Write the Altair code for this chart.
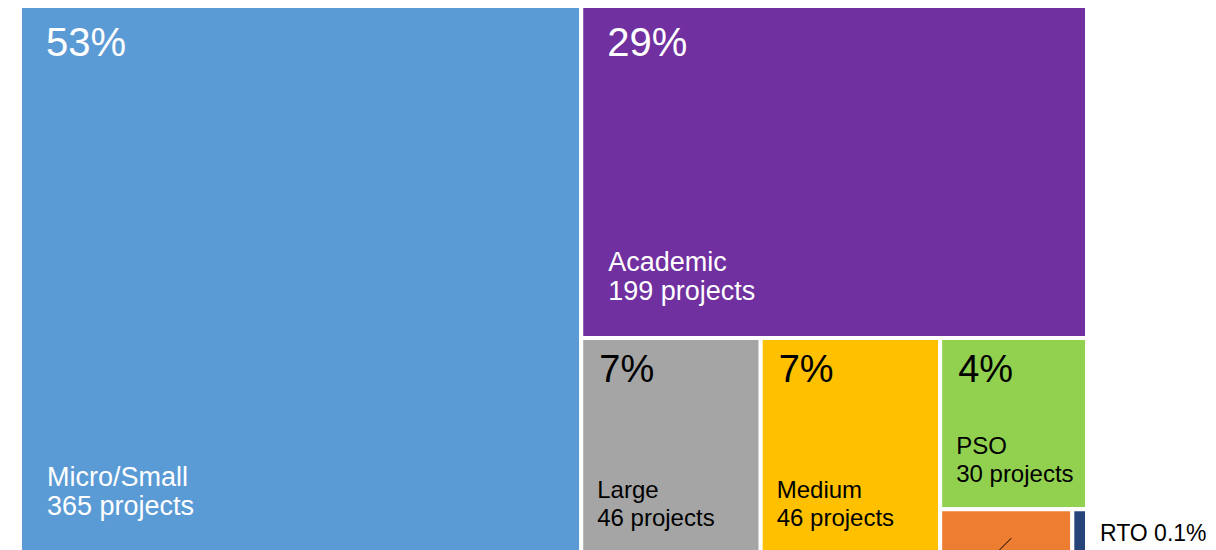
import altair as alt
import pandas as pd

# ---- data ----
categories = ["Micro/Small", "Academic", "Large", "Medium", "PSO", "Other", "RTO"]
shares = [52.6, 28.8, 6.6, 6.6, 4.3, 0.99, 0.11]          # % share (tile area)
projects = [365, 199, 46, 46, 30, None, None]            # project counts shown in labels
colors = ["#5B9BD5", "#7030A0", "#A5A5A5", "#FFC000", "#92D050", "#ED7D31", "#264478"]
dark_fills = ["Micro/Small", "Academic"]                 # tiles with white text


# ---- squarified treemap layout (Bruls et al.) computed from the values ----
def squarify(values, x, y, w, h):
    total = sum(values)
    areas = [v * w * h / total for v in values]

    def worst(row, side):
        s = sum(row)
        return max(max(side * side * r / (s * s), (s * s) / (side * side * r)) for r in row)

    rects = []
    i = 0
    while i < len(areas):
        side = min(w, h)
        row = [areas[i]]
        j = i + 1
        while j < len(areas) and worst(row + [areas[j]], side) <= worst(row, side):
            row.append(areas[j])
            j += 1
        s = sum(row)
        if w >= h:
            cw = s / h
            yy = y
            for a in row:
                rh = a / cw
                rects.append((x, yy, x + cw, yy + rh))
                yy += rh
            x += cw
            w -= cw
        else:
            rh = s / w
            xx = x
            for a in row:
                rw = a / rh
                rects.append((xx, y, xx + rw, y + rh))
                xx += rw
            y += rh
            h -= rh
        i = j
    return rects


TREE_W, TREE_H = 1067, 548
PLOT_W, PLOT_H = 1067, 542
rects = squarify(shares, 0, 0, TREE_W, TREE_H)

rows = []
for cat, sh, pr, (x0, y0, x1, y1) in zip(categories, shares, projects, rects):
    big = sh > 20
    rows.append(dict(
        cat=cat, share=sh, projects=pr,
        x0=x0, y0=y0, x1=x1, y1=y1,
        pct=f"{round(sh)}%",
        name=cat,
        count=(f"{pr} projects" if pr is not None else ""),
        tc=("white" if cat in dark_fills else "black"),
        pfs=(40 if big else 38),
        nfs=(27 if big else 24),
        px=x0 + (26 if big else 18),
        py=y0 + (51 if big else 44),
        nx=x0 + (27 if big else 16),
        ny2=y1 - (38 if big else 27),
        gap=(29 if big else 28),
    ))
df = pd.DataFrame(rows)
df["ny1"] = df["ny2"] - df["gap"]
labelled = df[df["projects"].notna()]

rto = df[df["cat"] == "RTO"].copy()
rto["lx"] = rto["x1"] + 13
rto["ly"] = rto["y0"] + 32
rto["txt"] = "RTO " + rto["share"].map(lambda v: f"{v:.1f}%")

other = df[df["cat"] == "Other"].copy()
xc = (other["x0"] + other["x1"]) / 2
other["ax"] = xc + 5
other["ay"] = other["y0"] + 29
other["bx"] = xc - 15
other["by"] = other["y0"] + 49

xs = alt.Scale(domain=[0, PLOT_W], nice=False, zero=False)
ys = alt.Scale(domain=[3, 3 + PLOT_H], nice=False, zero=False, reverse=True)
FONT = "Liberation Sans"

base = alt.Chart(df)

tiles = base.mark_rect(stroke="white", strokeWidth=4, clip=True).encode(
    x=alt.X("x0:Q", scale=xs, axis=None),
    x2="x1:Q",
    y=alt.Y("y0:Q", scale=ys, axis=None),
    y2="y1:Q",
    color=alt.Color("cat:N", scale=alt.Scale(domain=categories, range=colors), legend=None),
)

pct = alt.Chart(labelled).mark_text(align="left", baseline="alphabetic", font=FONT).encode(
    x=alt.X("px:Q", scale=xs, axis=None),
    y=alt.Y("py:Q", scale=ys, axis=None),
    text="pct:N",
    size=alt.Size("pfs:Q", scale=None, legend=None),
    color=alt.Color("tc:N", scale=None, legend=None),
)

name1 = alt.Chart(labelled).mark_text(align="left", baseline="alphabetic", font=FONT).encode(
    x=alt.X("nx:Q", scale=xs, axis=None),
    y=alt.Y("ny1:Q", scale=ys, axis=None),
    text="name:N",
    size=alt.Size("nfs:Q", scale=None, legend=None),
    color=alt.Color("tc:N", scale=None, legend=None),
)

name2 = alt.Chart(labelled).mark_text(align="left", baseline="alphabetic", font=FONT).encode(
    x=alt.X("nx:Q", scale=xs, axis=None),
    y=alt.Y("ny2:Q", scale=ys, axis=None),
    text="count:N",
    size=alt.Size("nfs:Q", scale=None, legend=None),
    color=alt.Color("tc:N", scale=None, legend=None),
)

rto_label = alt.Chart(rto).mark_text(align="left", baseline="alphabetic", font=FONT,
                                     fontSize=23, color="black").encode(
    x=alt.X("lx:Q", scale=xs, axis=None),
    y=alt.Y("ly:Q", scale=ys, axis=None),
    text="txt:N",
)

leader = alt.Chart(other).mark_rule(color="black", strokeWidth=1, clip=True).encode(
    x=alt.X("ax:Q", scale=xs, axis=None),
    x2="bx:Q",
    y=alt.Y("ay:Q", scale=ys, axis=None),
    y2="by:Q",
)

chart = alt.layer(tiles, leader, pct, name1, name2, rto_label).properties(
    width=PLOT_W,
    height=PLOT_H,
    padding={"left": 12, "top": 0, "right": 121, "bottom": 0},
    autosize=alt.AutoSizeParams(type="none"),
    background="white",
).configure_view(stroke=None)

chart.save("out.html", embed_options={"renderer": "svg", "actions": False})
